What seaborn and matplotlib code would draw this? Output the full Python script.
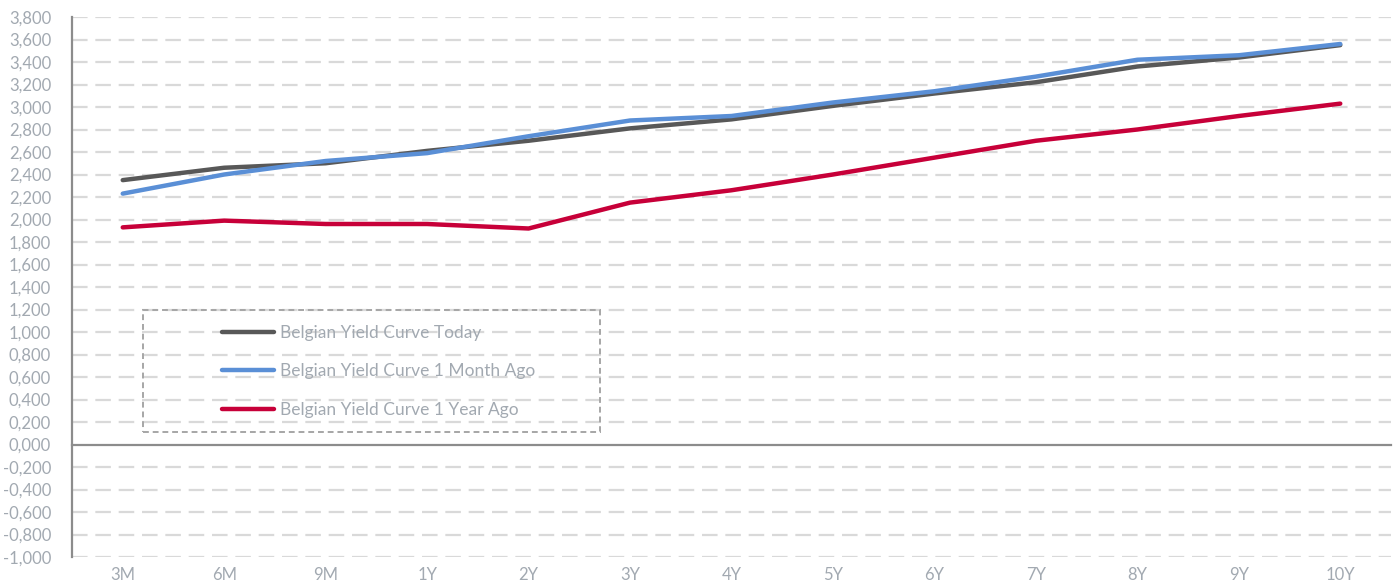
import pandas as pd
import matplotlib.pyplot as plt
import seaborn as sns
from matplotlib.patches import Rectangle
from matplotlib.ticker import FixedLocator, FuncFormatter

# Data
maturities = ["3M", "6M", "9M", "1Y", "2Y", "3Y", "4Y", "5Y", "6Y", "7Y", "8Y", "9Y", "10Y"]
today = [2.35, 2.46, 2.50, 2.61, 2.70, 2.81, 2.89, 3.01, 3.12, 3.22, 3.36, 3.44, 3.55]
month_ago = [2.23, 2.40, 2.52, 2.59, 2.74, 2.88, 2.92, 3.04, 3.14, 3.27, 3.42, 3.46, 3.56]
year_ago = [1.93, 1.99, 1.96, 1.96, 1.92, 2.15, 2.26, 2.40, 2.55, 2.70, 2.80, 2.92, 3.03]

series_names = ["Belgian Yield Curve Today",
                "Belgian Yield Curve 1 Month Ago",
                "Belgian Yield Curve 1 Year Ago"]
colors = ["#585858", "#5a8fd6", "#c70039"]

df = pd.DataFrame({
    "Maturity": maturities * 3,
    "Yield": today + month_ago + year_ago,
    "Serie": [series_names[0]] * 13 + [series_names[1]] * 13 + [series_names[2]] * 13,
})

sns.set_style("white")
plt.rcParams["font.family"] = ["Lato", "DejaVu Sans"]
text_col = "#a2a9b1"
axis_col = "#8c8c8c"

fig = plt.figure(figsize=(14, 5.86), dpi=100)
ax = fig.add_axes([72 / 1400, 1 - 557 / 586, 1319 / 1400, 540 / 586])

sns.lineplot(data=df, x="Maturity", y="Yield", hue="Serie", palette=colors,
             sort=False, linewidth=3.2, ax=ax, legend=True)

ax.set_xlim(-0.5, 12.5)
ax.set_ylim(-1.0, 3.8)
ax.set_xlabel("")
ax.set_ylabel("")

# grille
yticks = [round(-1.0 + 0.2 * i, 1) for i in range(25)]
ax.yaxis.set_major_locator(FixedLocator(yticks))
ax.yaxis.set_major_formatter(FuncFormatter(lambda v, p: f"{v:.3f}".replace(".", ",")))
for v in yticks:
    if v != 0:
        ax.axhline(v, color="#d9d9d9", linewidth=1.6, dashes=(7, 3.5), zorder=0)

# axes
for s in ["top", "right"]:
    ax.spines[s].set_visible(False)
ax.spines["left"].set_color(axis_col)
ax.spines["left"].set_linewidth(1.6)
ax.spines["bottom"].set_position(("data", 0))
ax.spines["bottom"].set_color(axis_col)
ax.spines["bottom"].set_linewidth(1.6)

ax.tick_params(axis="y", direction="out", length=5, width=1.6, color=axis_col,
               labelsize=12, labelcolor=text_col, pad=10)
ax.set_xticks(range(len(maturities)))
ax.set_xticklabels(maturities)
ax.set_xticks([i + 0.5 for i in range(12)], minor=True)
ax.tick_params(axis="x", which="major", length=0, labelsize=12, labelcolor=text_col, pad=88)
ax.tick_params(axis="x", which="minor", direction="out", length=5, width=1.6, color=axis_col)

# legende
leg = ax.legend(loc="upper left", bbox_to_anchor=(0.102, 0.459), frameon=False,
                fontsize=12.5, handlelength=3.0, handletextpad=0.35, labelspacing=1.3)
for t in leg.get_texts():
    t.set_color(text_col)
for h in leg.get_lines():
    h.set_linewidth(3.2)
ax.add_patch(Rectangle((0.0538, 0.2315), 0.3465, 0.2259, transform=ax.transAxes,
                       fill=False, edgecolor="#a6a6a6", linewidth=1.4,
                       linestyle=(0, (3, 2)), zorder=5, clip_on=False))

fig.savefig("out.png", dpi=100)
